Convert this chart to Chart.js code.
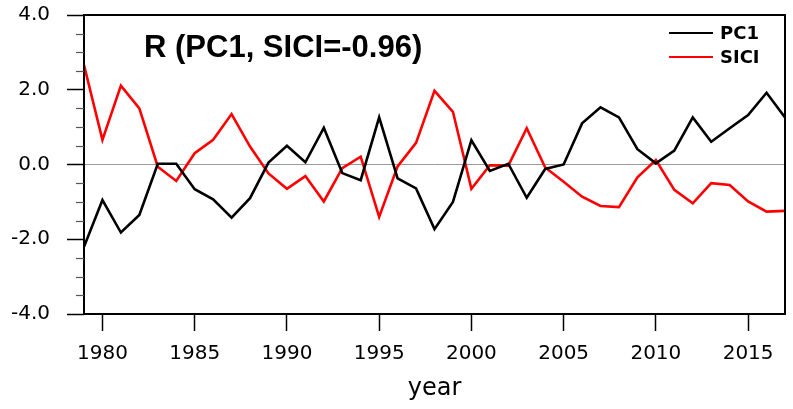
<!DOCTYPE html>
<html>
<head>
<meta charset="utf-8">
<script src="https://cdn.jsdelivr.net/npm/chart.js@4"></script>
<style>
  html, body { margin: 0; padding: 0; background: #fff; }
  #wrap { width: 793px; height: 409px; }
</style>
</head>
<body>
<div id="wrap"><canvas id="grafico" width="793" height="409"></canvas></div>
<script>
// datos
const years = [1979, 1980, 1981, 1982, 1983, 1984, 1985, 1986, 1987, 1988,
  1989, 1990, 1991, 1992, 1993, 1994, 1995, 1996, 1997, 1998,
  1999, 2000, 2001, 2002, 2003, 2004, 2005, 2006, 2007, 2008,
  2009, 2010, 2011, 2012, 2013, 2014, 2015, 2016, 2017];
const pc1 = [-2.2, -0.95, -1.82, -1.35, 0.02, 0.02, -0.66, -0.93, -1.42, -0.9,
  0.05, 0.5, 0.06, 0.98, -0.23, -0.42, 1.26, -0.37, -0.64, -1.73,
  -1.0, 0.65, -0.17, 0.02, -0.89, -0.12, 0.0, 1.1, 1.53, 1.26,
  0.41, 0.03, 0.37, 1.26, 0.61, 0.97, 1.32, 1.92, 1.26];
const sici = [2.66, 0.66, 2.11, 1.5, -0.06, -0.44, 0.3, 0.66, 1.35, 0.48,
  -0.24, -0.65, -0.31, -0.99, -0.1, 0.21, -1.4, -0.05, 0.58, 1.97,
  1.41, -0.65, -0.02, -0.03, 0.97, -0.08, -0.46, -0.86, -1.11, -1.14,
  -0.34, 0.12, -0.68, -1.04, -0.5, -0.55, -0.99, -1.26, -1.24];
const xTicks = [1980, 1985, 1990, 1995, 2000, 2005, 2010, 2015];
const yTicks = [-4, -2, 0, 2, 4];
const yMinorTicks = [-3.5, -3, -2.5, -1.5, -1, -0.5, 0.5, 1, 1.5, 2.5, 3, 3.5];
const titulo = "R (PC1, SICI=-0.96)";

const puntos = (ys) => years.map((x, i) => ({ x: x, y: ys[i] }));

// marco, ticks menores, titulo y leyenda
const extras = {
  id: "extras",
  afterDraw(chart) {
    const ctx = chart.ctx;
    const a = chart.chartArea;
    const yScale = chart.scales.y;
    ctx.save();
    ctx.strokeStyle = "#000";
    ctx.lineWidth = 2;
    ctx.strokeRect(a.left, a.top, a.right - a.left, a.bottom - a.top);

    ctx.lineWidth = 1.2;
    ctx.strokeStyle = "#555";
    yMinorTicks.forEach(v => {
      const py = Math.round(yScale.getPixelForValue(v)) + 0.5;
      ctx.beginPath();
      ctx.moveTo(a.left - 8, py);
      ctx.lineTo(a.left, py);
      ctx.stroke();
    });

    ctx.fillStyle = "#000";
    ctx.font = "bold 31px 'Liberation Sans', Arial, sans-serif";
    ctx.textBaseline = "alphabetic";
    ctx.textAlign = "left";
    ctx.fillText(titulo, 144, 57);

    ctx.font = "bold 18px 'DejaVu Sans', sans-serif";
    ctx.textBaseline = "middle";
    chart.data.datasets.forEach((ds, i) => {
      const yy = 33 + i * 24;
      ctx.strokeStyle = ds.borderColor;
      ctx.lineWidth = 2.2;
      ctx.beginPath();
      ctx.moveTo(669, yy);
      ctx.lineTo(713, yy);
      ctx.stroke();
      ctx.fillText(ds.label, 720, yy + 1);
    });
    ctx.restore();
  }
};

const tickFont = { family: "'DejaVu Sans'", size: 20 };

const canvas = document.getElementById("grafico");
new Chart(canvas.getContext("2d"), {
  type: "line",
  data: {
    datasets: [
      { label: "PC1", data: puntos(pc1), borderColor: "#000000", borderWidth: 2.6, pointRadius: 0, tension: 0 },
      { label: "SICI", data: puntos(sici), borderColor: "#ff0000", borderWidth: 2.6, pointRadius: 0, tension: 0 }
    ]
  },
  options: {
    responsive: false,
    animation: false,
    events: [],
    layout: { padding: { top: 15, right: 8, left: 0, bottom: 0 } },
    plugins: { legend: { display: false }, tooltip: { enabled: false } },
    scales: {
      x: {
        type: "linear",
        min: 1979,
        max: 2017,
        afterBuildTicks: (s) => { s.ticks = xTicks.map(v => ({ value: v })); },
        afterFit: (s) => { s.height = 95; s.paddingLeft = 0; s.paddingRight = 0; },
        border: { display: false },
        grid: { drawOnChartArea: false, tickLength: 17, tickColor: "#000", tickWidth: 1.5 },
        ticks: { color: "#000", padding: 11, maxRotation: 0, font: tickFont, callback: (v) => String(v) },
        title: { display: true, text: "year", color: "#000", font: { family: "'DejaVu Sans'", size: 24 }, padding: { top: 0, bottom: 6 } }
      },
      y: {
        min: -4,
        max: 4,
        afterBuildTicks: (s) => { s.ticks = yTicks.map(v => ({ value: v })); },
        afterFit: (s) => { s.width = 84; s.paddingTop = 0; s.paddingBottom = 0; },
        border: { display: false },
        grid: {
          tickLength: 17,
          tickColor: "#000",
          tickWidth: 1.5,
          lineWidth: 1,
          color: (c) => (c.tick && c.tick.value === 0 ? "#9a9a9a" : "rgba(0,0,0,0)")
        },
        ticks: { color: "#000", padding: 17, font: tickFont, callback: (v) => Number(v).toFixed(1) }
      }
    }
  },
  plugins: [extras]
});
</script>
</body>
</html>
